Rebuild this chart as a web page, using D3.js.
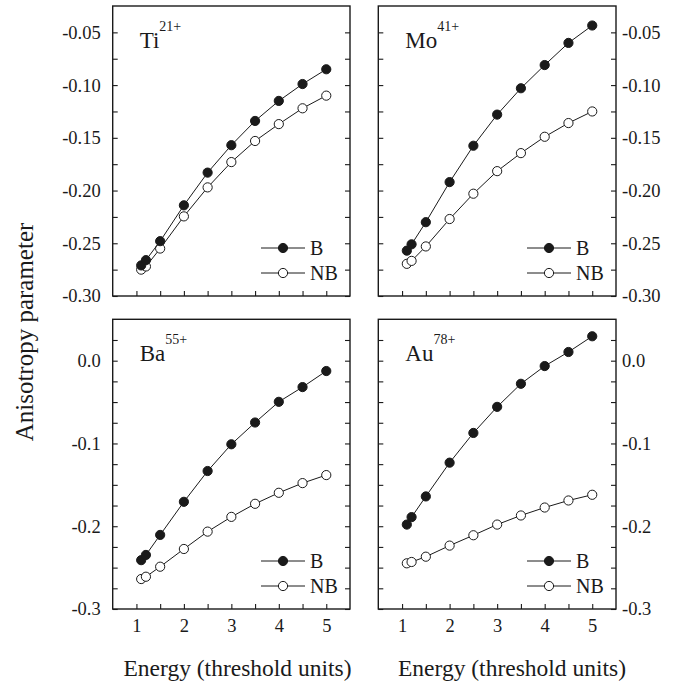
<!DOCTYPE html>
<html>
<head>
<meta charset="utf-8">
<script src="https://cdn.jsdelivr.net/npm/d3@7"></script>
<style>
  html, body { margin: 0; padding: 0; background: #fff; }
  svg { display: block; }
  text { font-family: "Liberation Serif", "Times New Roman", serif; fill: #1a1a1a; }
</style>
</head>
<body>
<svg id="chart" width="687" height="685"></svg>
<script>
// Energies (in threshold units) where the anisotropy parameter is evaluated
const energies = [1.1, 1.2, 1.5, 2, 2.5, 3, 3.5, 4, 4.5, 5];

// Anisotropy parameter, B and NB curves, for each ion
const tiB  = [-0.271, -0.266, -0.248, -0.214, -0.183, -0.157, -0.134, -0.115, -0.099, -0.085];
const tiNB = [-0.275, -0.272, -0.255, -0.2245, -0.197, -0.173, -0.153, -0.137, -0.122, -0.110];
const moB  = [-0.257, -0.251, -0.230, -0.192, -0.1575, -0.128, -0.103, -0.081, -0.060, -0.0435];
const moNB = [-0.2695, -0.2667, -0.253, -0.227, -0.203, -0.1816, -0.1645, -0.149, -0.136, -0.125];
const baB  = [-0.241, -0.2347, -0.2105, -0.1705, -0.1333, -0.101, -0.0747, -0.0497, -0.0319, -0.0125];
const baNB = [-0.2638, -0.261, -0.2489, -0.2275, -0.2065, -0.1887, -0.1729, -0.1596, -0.1479, -0.1382];
const auB  = [-0.198, -0.189, -0.164, -0.1232, -0.0873, -0.0558, -0.0279, -0.0065, 0.0105, 0.0295];
const auNB = [-0.2448, -0.2432, -0.2368, -0.2234, -0.2109, -0.198, -0.187, -0.1774, -0.1689, -0.162];

// Ion labels
const ions = ["Ti", "Mo", "Ba", "Au"];
const charges = ["21+", "41+", "55+", "78+"];
const seriesNames = ["B", "NB"];

// Tick values
const xTicks = [1, 1.5, 2, 2.5, 3, 3.5, 4, 4.5, 5];
const xLabels = [1, 2, 3, 4, 5];
const topTicks = [-0.30, -0.275, -0.25, -0.225, -0.20, -0.175, -0.15, -0.125, -0.10, -0.075, -0.05];
const topLabels = [-0.30, -0.25, -0.20, -0.15, -0.10, -0.05];
const bottomTicks = [-0.3, -0.275, -0.25, -0.225, -0.2, -0.175, -0.15, -0.125, -0.1, -0.075, -0.05, -0.025, 0.0, 0.025];
const bottomLabels = [-0.3, -0.2, -0.1, 0.0];

const svg = d3.select("#chart");
const ink = "#1a1a1a";
const serif = '"Liberation Serif", "Times New Roman", serif';

const cols = [{ x0: 112.7, x1: 350 }, { x0: 378.3, x1: 616 }];
const rows = [
  { y0: 6, y1: 296, domain: [-0.30, -0.025], ticks: topTicks, labels: topLabels, fmt: d3.format(".2f") },
  { y0: 319.3, y1: 609, domain: [-0.30, 0.05], ticks: bottomTicks, labels: bottomLabels, fmt: d3.format(".1f") }
];

const panels = [
  { ion: 0, col: 0, row: 0, b: tiB, nb: tiNB },
  { ion: 1, col: 1, row: 0, b: moB, nb: moNB },
  { ion: 2, col: 0, row: 1, b: baB, nb: baNB },
  { ion: 3, col: 1, row: 1, b: auB, nb: auNB }
];

const minus = s => s.replace("\u2212", "-");
const isIn = (arr, d) => arr.some(v => Math.abs(v - d) < 1e-9);

panels.forEach(p => {
  const c = cols[p.col], r = rows[p.row];
  const x = d3.scaleLinear().domain([0.5, 5.5]).range([c.x0, c.x1]);
  const y = d3.scaleLinear().domain(r.domain).range([r.y1, r.y0]);
  const g = svg.append("g");

  // y axes on both sides, ticks pointing inward
  const yFmtL = d => (p.col === 0 && isIn(r.labels, d)) ? minus(r.fmt(d)) : "";
  const yFmtR = d => (p.col === 1 && isIn(r.labels, d)) ? minus(r.fmt(d)) : "";
  const axL = g.append("g").attr("transform", `translate(${c.x0},0)`)
    .call(d3.axisLeft(y).tickValues(r.ticks).tickSize(-5).tickPadding(12).tickFormat(yFmtL));
  const axR = g.append("g").attr("transform", `translate(${c.x1},0)`)
    .call(d3.axisRight(y).tickValues(r.ticks).tickSize(-5).tickPadding(6).tickFormat(yFmtR));
  const xFmt = d => (p.row === 1 && isIn(xLabels, d)) ? String(d) : "";
  const axB = g.append("g").attr("transform", `translate(0,${r.y1})`)
    .call(d3.axisBottom(x).tickValues(xTicks).tickSize(-5).tickPadding(10).tickFormat(xFmt));
  [axL, axR, axB].forEach(a => {
    a.attr("font-family", serif);
    a.select(".domain").remove();
    a.selectAll(".tick line").attr("stroke", ink).attr("stroke-width", 1.1);
    a.selectAll(".tick text").attr("font-size", 18.5).attr("fill", ink)
      .attr("font-family", serif);
  });

  // frame
  g.append("rect").attr("x", c.x0).attr("y", r.y0)
    .attr("width", c.x1 - c.x0).attr("height", r.y1 - r.y0)
    .attr("fill", "none").attr("stroke", ink).attr("stroke-width", 1.4);

  // curves
  const line = d3.line().x((d, i) => x(energies[i])).y(d => y(d));
  [p.nb, p.b].forEach((vals, k) => {
    const filled = k === 1;
    g.append("path").datum(vals).attr("d", line)
      .attr("fill", "none").attr("stroke", ink).attr("stroke-width", 1);
    g.selectAll(null).data(vals).enter().append("circle")
      .attr("cx", (d, i) => x(energies[i])).attr("cy", d => y(d)).attr("r", 4.6)
      .attr("fill", filled ? ink : "#fff").attr("stroke", ink).attr("stroke-width", 1);
  });

  // ion label with charge state as superscript
  const t = g.append("text").attr("x", c.x0 + 27).attr("y", r.y0 + 42)
    .attr("font-size", 23).attr("font-family", serif);
  t.append("tspan").text(ions[p.ion]);
  t.append("tspan").attr("font-size", 14).attr("dy", -17).text(charges[p.ion]);

  // legend
  seriesNames.forEach((name, k) => {
    const ly = r.y1 - (k === 0 ? 48 : 23);
    const lx0 = c.x1 - 89, lx1 = c.x1 - 45;
    g.append("line").attr("x1", lx0).attr("x2", lx1).attr("y1", ly).attr("y2", ly)
      .attr("stroke", ink).attr("stroke-width", 1);
    g.append("circle").attr("cx", (lx0 + lx1) / 2).attr("cy", ly).attr("r", 4.6)
      .attr("fill", k === 0 ? ink : "#fff").attr("stroke", ink).attr("stroke-width", 1);
    g.append("text").attr("x", c.x1 - 40).attr("y", ly).attr("dy", "0.35em")
      .attr("font-size", 20).attr("font-family", serif).text(name);
  });
});

// axis titles
[237.5, 512].forEach(cx => {
  svg.append("text").attr("x", cx).attr("y", 676).attr("text-anchor", "middle")
    .attr("font-size", 23.5).attr("font-family", serif).text("Energy (threshold units)");
});
svg.append("text").attr("transform", "translate(33,332) rotate(-90)")
  .attr("text-anchor", "middle").attr("font-size", 25).attr("font-family", serif)
  .text("Anisotropy parameter");
</script>
</body>
</html>
